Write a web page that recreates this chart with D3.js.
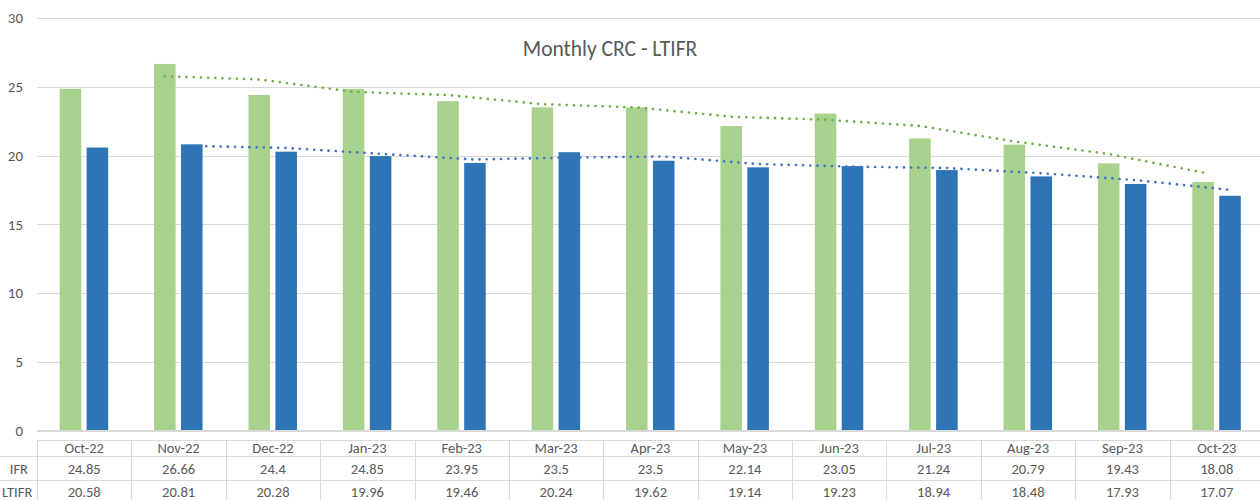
<!DOCTYPE html>
<html>
<head>
<meta charset="utf-8">
<script src="https://cdn.jsdelivr.net/npm/d3@7"></script>
<style>
  html, body { margin: 0; padding: 0; background: #fff; }
  svg { display: block; font-family: Calibri, Carlito, Lato, "Open Sans", sans-serif; }
</style>
</head>
<body>
<svg id="chart" width="1260" height="500"></svg>
<script>
const categories = ["Oct-22","Nov-22","Dec-22","Jan-23","Feb-23","Mar-23","Apr-23","May-23","Jun-23","Jul-23","Aug-23","Sep-23","Oct-23"];
const seriesNames = ["IFR", "LTIFR"];
const ifrValues   = [24.85, 26.66, 24.4, 24.85, 23.95, 23.5, 23.5, 22.14, 23.05, 21.24, 20.79, 19.43, 18.08];
const ltifrValues = [20.58, 20.81, 20.28, 19.96, 19.46, 20.24, 19.62, 19.14, 19.23, 18.94, 18.48, 17.93, 17.07];
// trend lines (2-period moving average), starting at Nov-22
const ifrTrend   = [null, 25.76, 25.53, 24.63, 24.4, 23.73, 23.5, 22.82, 22.6, 22.15, 21.02, 20.11, 18.76];
const ltifrTrend = [null, 20.7, 20.55, 20.12, 19.71, 19.85, 19.93, 19.38, 19.19, 19.09, 18.71, 18.21, 17.5];
const yTicks = [0, 5, 10, 15, 20, 25, 30];
const title = "Monthly CRC - LTIFR";

(function () {
const svg = d3.select("#chart");
const textColor = "#595959";
const gridColor = "#d9d9d9";
const colors = { IFR: "#a9d18e", LTIFR: "#2e75b6" };
const trendColors = { IFR: "#70ad47", LTIFR: "#4472c4" };
const fs = "14.5px";

const pl = 37, pr = 1264, pt = 18, pb = 430.5;
const x = d3.scaleBand().domain(categories).range([pl, pr]).paddingInner(0).paddingOuter(0);
const xs = d3.scaleBand().domain(seriesNames).range([-24.5, 24]).paddingInner(0.2);
const y = d3.scaleLinear().domain([0, 30]).range([pb, pt]);
const cx = c => x(c) + x.bandwidth() / 2;

// gridlines
svg.append("g").selectAll("line").data(yTicks).join("line")
  .attr("x1", pl).attr("x2", 1260)
  .attr("y1", d => Math.round(y(d)) + 0.5).attr("y2", d => Math.round(y(d)) + 0.5)
  .attr("stroke", gridColor).attr("stroke-width", 1);

// y axis labels
const yAxis = d3.axisLeft(y).tickValues(yTicks).tickSize(0).tickPadding(0);
const gy = svg.append("g").attr("transform", `translate(23,0)`).call(yAxis);
gy.select(".domain").remove();
gy.selectAll("text").attr("fill", textColor).style("font-size", "15px")
  .style("font-family", "Calibri, Carlito, Lato, sans-serif");

// bars
const data = seriesNames.map(s => ({ s, vals: s === "IFR" ? ifrValues : ltifrValues }));
svg.append("g").selectAll("g").data(data).join("g")
  .attr("fill", d => colors[d.s])
  .selectAll("rect").data(d => d.vals.map((v, i) => ({ s: d.s, v, c: categories[i] }))).join("rect")
  .attr("x", d => cx(d.c) + xs(d.s))
  .attr("width", xs.bandwidth())
  .attr("y", d => y(d.v))
  .attr("height", d => y(0) - y(d.v));

// trend lines
const trends = [{ s: "IFR", vals: ifrTrend }, { s: "LTIFR", vals: ltifrTrend }];
const line = d3.line()
  .defined(d => d.v != null)
  .x(d => cx(d.c) + xs(d.s) + xs.bandwidth() / 2)
  .y(d => y(d.v));
svg.append("g").selectAll("path").data(trends).join("path")
  .attr("d", t => line(t.vals.map((v, i) => ({ s: t.s, v, c: categories[i] }))))
  .attr("fill", "none")
  .attr("stroke", t => trendColors[t.s])
  .attr("stroke-width", 2.6)
  .attr("stroke-linecap", "round")
  .attr("stroke-dasharray", "0.1 7.1");

// title
svg.append("text").attr("x", 610).attr("y", 56).attr("text-anchor", "middle")
  .attr("fill", textColor).style("font-size", "21.5px").text(title);

// data table
const tTop = 440.5, r1 = 456.5, r2 = 480.5, tBot = 503;
const tg = svg.append("g").attr("stroke", gridColor).attr("stroke-width", 1);
tg.append("line").attr("x1", pl).attr("x2", 1260).attr("y1", tTop).attr("y2", tTop);
tg.append("line").attr("x1", 0).attr("x2", 1260).attr("y1", r1).attr("y2", r1);
tg.append("line").attr("x1", 0).attr("x2", 1260).attr("y1", r2).attr("y2", r2);
tg.append("line").attr("x1", pl).attr("x2", 1260).attr("y1", 430.5).attr("y2", 430.5);
tg.selectAll("line.v").data(categories).join("line").attr("class", "v")
  .attr("x1", d => Math.round(x(d)) + 0.5).attr("x2", d => Math.round(x(d)) + 0.5)
  .attr("y1", tTop).attr("y2", tBot);

const tt = svg.append("g").attr("fill", textColor).style("font-size", fs).attr("text-anchor", "middle");
tt.selectAll("text.h").data(categories).join("text").attr("class", "h")
  .attr("x", d => cx(d)).attr("y", 453).text(d => d);
tt.selectAll("text.a").data(ifrValues).join("text").attr("class", "a")
  .attr("x", (d, i) => cx(categories[i])).attr("y", 473.5).text(d => d);
tt.selectAll("text.b").data(ltifrValues).join("text").attr("class", "b")
  .attr("x", (d, i) => cx(categories[i])).attr("y", 496.5).text(d => d);

svg.append("text").attr("x", 28).attr("y", 473.5).attr("text-anchor", "end")
  .attr("fill", textColor).style("font-size", fs).text(seriesNames[0]);
svg.append("text").attr("x", 2).attr("y", 496.5).attr("text-anchor", "start")
  .attr("fill", textColor).style("font-size", fs).text(seriesNames[1]);
})();
</script>
</body>
</html>
